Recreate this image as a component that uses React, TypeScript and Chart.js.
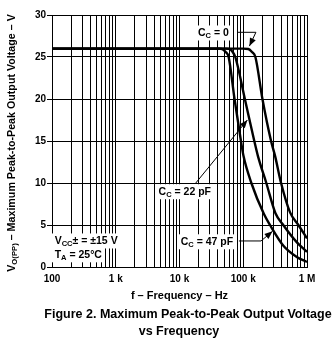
import React, { useEffect, useRef } from "react";
import { Chart, registerables } from "chart.js";

Chart.register(...registerables);

const FONT = "'Liberation Sans', Arial, Helvetica, sans-serif";

// ---- data (frequency in Hz, output voltage in V) ----
const freqCc0 = [100, 1000, 10000, 100000, 120000, 137000, 155000, 200000, 273000, 316000, 392000, 542000, 733000, 1000000];
const voltCc0 = [26, 26, 26, 26, 25.95, 25.6, 25, 20, 15, 13.2, 10, 6.5, 5, 3.4];

const freqCc22 = [100, 1000, 10000, 55000, 63000, 68000, 75000, 106000, 149000, 170000, 230000, 320000, 424000, 700000, 1000000];
const voltCc22 = [26, 26, 26, 26, 25.9, 25.6, 25, 20, 15, 13.2, 10, 6.4, 5, 2.9, 1.8];

const freqCc47 = [100, 1000, 10000, 42000, 48000, 53000, 59000, 73000, 92000, 101000, 134000, 211000, 263000, 430000, 690000, 1000000];
const voltCc47 = [26, 26, 26, 26, 25.9, 25.6, 25, 20, 15, 13.2, 10, 6.3, 5, 2.5, 1.2, 0.6];

// ---- axes ----
const yTickValues = [0, 5, 10, 15, 20, 25, 30];
const xDecades = [100, 1000, 10000, 100000, 1000000];
const xDecadeLabels = ["100", "1 k", "10 k", "100 k", "1 M"];
const minorMultipliers = [1, 2, 3, 4, 5, 6, 7, 8, 9];

// ---- texts ----
const yTitle = [{ t: "V" }, { t: "O(PP)", sub: true }, { t: " \u2013 Maximum Peak-to-Peak Output Voltage \u2013 V" }];
const xTitle = "f \u2013 Frequency \u2013 Hz";
const caption1 = "Figure 2. Maximum Peak-to-Peak Output Voltage";
const caption2 = "vs Frequency";

// annotations anchored in data coordinates
const annCc0 = { parts: [{ t: "C" }, { t: "C", sub: true }, { t: " = 0" }], f: 34000, v: 27.86, leader: [[82600, 27.94], [158000, 27.94], [125000, 26.3]] };
const annCc22 = { parts: [{ t: "C" }, { t: "C", sub: true }, { t: " = 22 pF" }], f: 12100, v: 8.96, leader: [[18000, 10.0], [116000, 17.5]] };
const annCc47 = { parts: [{ t: "C" }, { t: "C", sub: true }, { t: " = 47 pF" }], f: 26900, v: 3.0, leader: [[85500, 3.1], [190000, 3.1], [288000, 4.25]] };
const annVcc = { parts: [{ t: "V" }, { t: "CC", sub: true }, { t: "\u00b1 = \u00b115 V" }], f: 110, v: 3.1 };
const annTa = { parts: [{ t: "T" }, { t: "A", sub: true }, { t: " = 25\u00b0C" }], f: 110, v: 1.45 };

type Part = { t: string; sub?: boolean };

function richWidth(ctx: CanvasRenderingContext2D, parts: Part[], size: number) {
  let w = 0;
  for (const p of parts) {
    ctx.font = `bold ${p.sub ? size * 0.72 : size}px ${FONT}`;
    w += ctx.measureText(p.t).width;
  }
  return w;
}

function drawRich(ctx: CanvasRenderingContext2D, parts: Part[], x: number, y: number, size: number, align: "left" | "center") {
  const w = richWidth(ctx, parts, size);
  let cx = align === "center" ? x - w / 2 : x;
  ctx.textAlign = "left";
  ctx.textBaseline = "middle";
  ctx.fillStyle = "#000";
  for (const p of parts) {
    const s = p.sub ? size * 0.72 : size;
    ctx.font = `bold ${s}px ${FONT}`;
    ctx.fillText(p.t, cx, p.sub ? y + size * 0.3 : y);
    cx += ctx.measureText(p.t).width;
  }
  return w;
}

function arrowHead(ctx: CanvasRenderingContext2D, x0: number, y0: number, x1: number, y1: number) {
  const ang = Math.atan2(y1 - y0, x1 - x0);
  const len = 8, half = 3.2;
  ctx.beginPath();
  ctx.moveTo(x1, y1);
  ctx.lineTo(x1 - len * Math.cos(ang) + half * Math.sin(ang), y1 - len * Math.sin(ang) - half * Math.cos(ang));
  ctx.lineTo(x1 - len * Math.cos(ang) - half * Math.sin(ang), y1 - len * Math.sin(ang) + half * Math.cos(ang));
  ctx.closePath();
  ctx.fill();
}

export default function App() {
  const ref = useRef<HTMLCanvasElement>(null);

  useEffect(() => {
    const canvas = ref.current!;
    const gridValues: number[] = [];
    xDecades.forEach((d, i) => {
      if (i === xDecades.length - 1) gridValues.push(d);
      else minorMultipliers.forEach((m) => gridValues.push(d * m));
    });
    const mk = (f: number[], v: number[]) => f.map((x, i) => ({ x, y: v[i] }));

    const textPlugin = {
      id: "texts",
      afterDatasetsDraw(chart: any) {
        const ctx: CanvasRenderingContext2D = chart.ctx;
        const xs = chart.scales.x, ys = chart.scales.y;
        const px = (f: number) => xs.getPixelForValue(f);
        const py = (v: number) => ys.getPixelForValue(v);
        const size = 10.5;
        ctx.save();
        const boxed = (a: any, align: "left" | "center") => {
          const w = richWidth(ctx, a.parts, size);
          const x = px(a.f), y = py(a.v);
          const left = align === "center" ? x - w / 2 : x;
          ctx.fillStyle = "#fff";
          ctx.fillRect(left - 3, y - 7.5, w + 6, 15);
          drawRich(ctx, a.parts, x, y, size, align);
        };
        boxed(annCc0, "center");
        boxed(annCc22, "center");
        boxed(annCc47, "center");
        boxed(annVcc, "left");
        boxed(annTa, "left");
        ctx.strokeStyle = "#000";
        ctx.fillStyle = "#000";
        ctx.lineWidth = 1;
        for (const a of [annCc0, annCc22, annCc47]) {
          const pts = a.leader.map(([f, v]) => [px(f), py(v)]);
          ctx.beginPath();
          ctx.moveTo(pts[0][0], pts[0][1]);
          for (let i = 1; i < pts.length; i++) ctx.lineTo(pts[i][0], pts[i][1]);
          ctx.stroke();
          const n = pts.length;
          arrowHead(ctx, pts[n - 2][0], pts[n - 2][1], pts[n - 1][0], pts[n - 1][1]);
        }
        ctx.restore();
      },
      afterDraw(chart: any) {
        const ctx: CanvasRenderingContext2D = chart.ctx;
        const area = chart.chartArea;
        ctx.save();
        // y title
        ctx.translate(12, (area.top + area.bottom) / 2 + 2);
        ctx.rotate(-Math.PI / 2);
        drawRich(ctx, yTitle, 0, 0, 10.7, "center");
        ctx.restore();
        ctx.save();
        ctx.fillStyle = "#000";
        ctx.textAlign = "center";
        ctx.textBaseline = "middle";
        ctx.font = `bold 11px ${FONT}`;
        ctx.fillText(xTitle, (area.left + area.right) / 2, 296);
        ctx.font = `bold 12.5px ${FONT}`;
        ctx.fillText(caption1, 188, 315);
        ctx.fillText(caption2, 179, 332);
        ctx.restore();
      },
    };

    const chart = new Chart(canvas, {
      type: "line",
      data: {
        datasets: [
          { label: "CC = 0", data: mk(freqCc0, voltCc0) },
          { label: "CC = 22 pF", data: mk(freqCc22, voltCc22) },
          { label: "CC = 47 pF", data: mk(freqCc47, voltCc47) },
        ],
      },
      options: {
        animation: false,
        responsive: false,
        devicePixelRatio: 1,
        layout: { padding: { left: 0, top: 15, right: 29, bottom: 0 } },
        plugins: { legend: { display: false }, tooltip: { enabled: false }, title: { display: false } },
        elements: {
          point: { radius: 0 },
          line: { borderWidth: 2.4, borderColor: "#000", cubicInterpolationMode: "monotone", fill: false },
        },
        scales: {
          x: {
            type: "logarithmic",
            min: 100,
            max: 1000000,
            position: "bottom",
            afterBuildTicks: (s: any) => {
              s.ticks = gridValues.map((v) => ({ value: v }));
            },
            afterFit: (s: any) => {
              s.height = 74;
            },
            grid: { color: "#000", lineWidth: 1, drawTicks: false },
            border: { color: "#000", width: 1 },
            ticks: {
              autoSkip: false,
              maxRotation: 0,
              minRotation: 0,
              padding: 6,
              color: "#000",
              font: { family: FONT, size: 10, weight: "bold" },
              callback: (value: any) => {
                const i = xDecades.indexOf(Number(value));
                return i >= 0 ? xDecadeLabels[i] : "";
              },
            },
          },
          y: {
            type: "linear",
            min: 0,
            max: 30,
            afterBuildTicks: (s: any) => {
              s.ticks = yTickValues.map((v) => ({ value: v }));
            },
            afterFit: (s: any) => {
              s.width = 52;
            },
            grid: { color: "#000", lineWidth: 1, drawTicks: true, tickLength: 5 },
            border: { color: "#000", width: 1 },
            ticks: { padding: 1, color: "#000", font: { family: FONT, size: 10, weight: "bold" } },
          },
        },
      } as any,
      plugins: [textPlugin],
    });
    return () => chart.destroy();
  }, []);

  return (
    <div style={{ position: "absolute", left: 0, top: 0, width: 336, height: 341, background: "#fff" }}>
      <canvas ref={ref} width={336} height={341} style={{ display: "block", width: 336, height: 341 }} />
    </div>
  );
}
